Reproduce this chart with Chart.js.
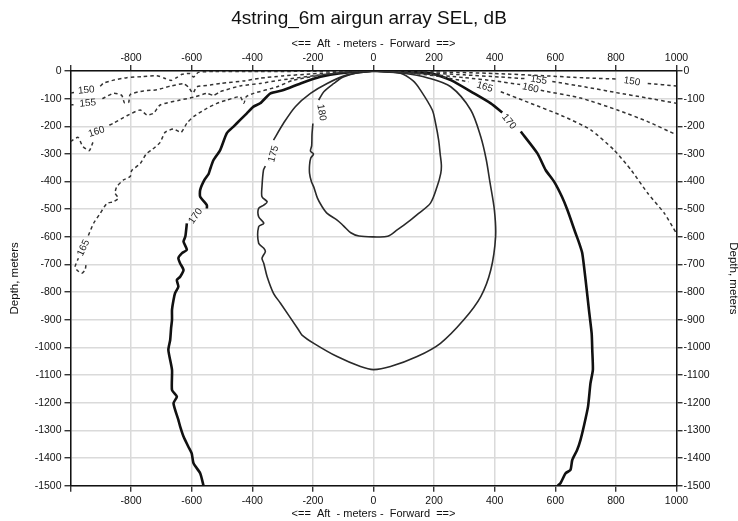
<!DOCTYPE html>
<html>
<head>
<meta charset="utf-8">
<script src="https://cdn.jsdelivr.net/npm/chart.js@4"></script>
<style>
  html, body { margin: 0; padding: 0; background: #fff; }
  #wrap { width: 738px; height: 521px; }
</style>
</head>
<body>
<div id="wrap"><canvas id="myChart" width="738" height="521"></canvas></div>
<script>
// ==== SEL contours, [range m, depth m]; null = break in the line where a label sits ====
const sel150 = [
  [-1000, -80], [-988, -78], null,
  [-902, -55], [-891, -44], [-858, -33], [-814, -24], [-760, -20], [-715, -17], [-690, -26], [-668, -34],
  [-650, -24], [-632, -12], [-605, -9], [-594, -22], [-578, -5], [-528, -2], [-400, -2], [-200, -1], [0, 0],
  [200, -3], [400, -9], [560, -17], [700, -25], [805, -29], null,
  [905, -45], [1000, -54]
];

const sel155 = [
  [-1000, -123], [-990, -122], null,
  [-895, -100], [-858, -81], [-831, -88], [-822, -115], [-808, -113], [-803, -85], [-759, -72], [-715, -68],
  [-671, -55], [-627, -46], [-611, -58], [-596, -80], [-583, -57], [-539, -51], [-506, -45], [-429, -36],
  [-374, -26], [-300, -18], [-200, -10], [-100, -4], [0, 0],
  [150, -6], [300, -14], [420, -22], [505, -28], null,
  [590, -38], [700, -58], [800, -78], [900, -97], [1000, -117]
];

const sel160 = [
  [-1000, -255], [-975, -240], [-960, -272], [-938, -288], [-926, -258], null,
  [-872, -196], [-858, -189], [-814, -162], [-770, -141], [-748, -159], [-726, -153], [-704, -123],
  [-638, -105], [-594, -95], [-550, -81], [-528, -88], [-506, -75], [-440, -54], [-374, -45], [-307, -33],
  [-175, -14], [-76, -4], [0, 0],
  [150, -9], [300, -24], [400, -36], [484, -49], null,
  [552, -70], [684, -98], [805, -141], [905, -183], [1000, -231]
];

const sel165 = [
  [-949, -702], [-952, -720], [-963, -732], [-979, -720], [-985, -708], [-974, -677], null,
  [-941, -595], [-924, -551], [-902, -515], [-880, -479], [-858, -473], [-842, -460], [-853, -442],
  [-847, -418], [-825, -394], [-803, -382], [-798, -360], [-770, -335], [-750, -300], [-728, -282],
  [-704, -258], [-688, -222], [-660, -210], [-635, -222], [-616, -189], [-594, -165], [-550, -135],
  [-517, -117], [-484, -105], [-440, -93], [-428, -117], [-420, -93], [-396, -81], [-318, -57],
  [-264, -33], [-131, -8], [0, 0],
  [100, -6], [200, -17], [314, -39], null,
  [420, -75], [519, -117], [629, -165], [717, -213], [794, -286], [850, -358], [905, -442], [960, -515], [1000, -588]
];

const sel170 = [
  [-561, -1500], [-572, -1455], [-594, -1419], [-600, -1383], [-611, -1359], [-627, -1322], [-638, -1286],
  [-644, -1262], [-660, -1202], [-649, -1178], [-665, -1154], [-665, -1081], [-677, -1009], [-671, -973],
  [-668, -930], [-665, -900], [-665, -864], [-660, -828], [-655, -804], [-644, -780], [-649, -756],
  [-638, -744], [-627, -720], [-638, -696], [-644, -677], [-632, -659], [-616, -647], [-627, -617],
  [-621, -599], [-616, -551], null,
  [-550, -497], [-550, -485], [-572, -455], [-572, -430], [-558, -394], [-544, -372], [-540, -358],
  [-528, -322], [-506, -286], [-484, -225], [-462, -201], [-440, -177], [-418, -153], [-396, -129],
  [-374, -117], [-340, -81], [-297, -69], [-241, -45], [-175, -21], [-109, -8], [0, 0],
  [188, -8], [255, -33], [332, -81], [387, -117], [425, -150], null,
  [486, -219], [541, -298], [568, -358], [596, -400], [622, -455], [640, -503], [667, -587], [678, -620],
  [689, -659], [700, -756], [711, -864], [720, -949], [722, -1009], [724, -1081], [716, -1130],
  [708, -1214], [694, -1286], [683, -1335], [672, -1371], [656, -1407], [650, -1443], [634, -1455],
  [617, -1491], [608, -1500]
];

const sel175 = [
  [0, 0], [-87, -14], [-153, -45], [-208, -81], [-258, -129], [-297, -189], [-330, -250], null,
  [-357, -344], [-363, -358], [-368, -418], [-368, -455], [-351, -473], [-362, -485], [-379, -497],
  [-379, -527], [-362, -551], [-379, -563], [-379, -623], [-362, -641], [-357, -653], [-368, -677],
  [-362, -696], [-351, -744], [-330, -804], [-307, -840], [-247, -937], [-236, -955], [-197, -985],
  [-120, -1033], [-43, -1069], [0, -1080],
  [56, -1069], [144, -1033], [221, -985], [298, -900], [354, -816], [387, -720], [403, -599],
  [399, -503], [384, -400], [372, -320], [354, -238], [321, -141], [255, -57], [180, -25], [100, -8], [0, 0]
];

const sel180 = [
  [0, 0], [-60, -8], [-100, -22], [-131, -45], [-164, -75], [-181, -105], null,
  [-200, -190], [-203, -230], [-204, -270], [-208, -290], [-198, -300], [-207, -315], [-211, -340],
  [-211, -370], [-205, -400], [-197, -420], [-185, -460], [-170, -490], [-153, -515], [-120, -539],
  [-99, -560], [-75, -585], [-48, -597], [0, -600], [47, -598], [78, -575], [122, -539], [149, -515],
  [188, -478], [210, -418], [222, -370], [224, -340], [220, -300], [215, -250], [205, -190], [194, -141],
  [155, -69], [130, -35], [89, -8], [0, 0]
];

// ==== contour labels: [text, range, depth, angle deg] ====
const contourLabels = [
  ['150', -948, -70, -5],
  ['155', -943, -117, -5],
  ['160', -914, -220, -18],
  ['165', -957, -640, -65],
  ['170', -587, -525, -55],
  ['175', -330, -300, -75],
  ['180', -172, -150, 80],
  ['165', 367, -58, 17],
  ['160', 518, -62, 12],
  ['155', 545, -33, 9],
  ['150', 853, -38, 9],
  ['170', 447, -183, 50]
];

const xTicks = { min: -1000, max: 1000, step: 200 };
const yTicks = { min: -1500, max: 0, step: 100 };

const FONT = '"Liberation Sans", Arial, Helvetica, sans-serif';

const toPoints = arr => arr.map(p => p ? { x: p[0], y: p[1] } : { x: null, y: null });

const dashed = { borderColor: '#333', borderWidth: 1.5, borderDash: [3.5, 3], tension: 0.2 };
const solid = { borderColor: '#2a2a2a', borderWidth: 1.6, tension: 0.3 };
const thick = { borderColor: '#111', borderWidth: 2.6, tension: 0.2 };

const data = {
  datasets: [
    { label: '150', data: toPoints(sel150), ...dashed },
    { label: '155', data: toPoints(sel155), ...dashed },
    { label: '160', data: toPoints(sel160), ...dashed },
    { label: '165', data: toPoints(sel165), ...dashed },
    { label: '175', data: toPoints(sel175), ...solid },
    { label: '180', data: toPoints(sel180), ...solid },
    { label: '170', data: toPoints(sel170), ...thick }
  ]
};

// ==== contour level text along the lines ====
const contourLabelPlugin = {
  id: 'contourLabels',
  afterDatasetsDraw(chart) {
    const { ctx, scales: { x, y } } = chart;
    ctx.save();
    ctx.font = '10px ' + FONT;
    ctx.fillStyle = '#222';
    ctx.textAlign = 'center';
    ctx.textBaseline = 'middle';
    contourLabels.forEach(([txt, vx, vy, ang]) => {
      ctx.save();
      ctx.translate(x.getPixelForValue(vx), y.getPixelForValue(vy));
      ctx.rotate(ang * Math.PI / 180);
      ctx.fillText(txt, 0, 0);
      ctx.restore();
    });
    ctx.restore();
  }
};

const axisX = (position, size, titlePad, onArea) => ({
  type: 'linear',
  axis: 'x',
  position: position,
  min: xTicks.min,
  max: xTicks.max,
  ticks: {
    stepSize: xTicks.step,
    autoSkip: false,
    maxRotation: 0,
    padding: position === 'top' ? 1 : 3,
    color: '#111',
    font: { family: FONT, size: 10.5 },
    callback: v => v === xTicks.min ? '' : String(v)
  },
  grid: { color: '#dadada', lineWidth: 1.5, tickLength: 6, tickColor: '#111', tickWidth: 1.2, drawOnChartArea: onArea },
  border: { color: '#111', width: 1.5 },
  title: {
    display: true,
    text: '<==  Aft  - meters -  Forward  ==>',
    color: '#111',
    font: { family: FONT, size: 11 },
    padding: titlePad
  },
  afterFit: s => { s.height = size; }
});

const axisY = (position, size, titlePad, onArea) => ({
  type: 'linear',
  axis: 'y',
  position: position,
  min: yTicks.min,
  max: yTicks.max,
  ticks: {
    stepSize: yTicks.step,
    autoSkip: false,
    padding: position === 'left' ? 3 : 1,
    color: '#111',
    font: { family: FONT, size: 10.5 },
    callback: v => String(v)
  },
  grid: { color: '#dadada', lineWidth: 1.5, tickLength: 6, tickColor: '#111', tickWidth: 1.2, drawOnChartArea: onArea },
  border: { color: '#111', width: 1.5 },
  title: {
    display: true,
    text: 'Depth, meters',
    color: '#111',
    font: { family: FONT, size: 11.5 },
    padding: titlePad
  },
  afterFit: s => { s.width = size; }
});

const config = {
  type: 'scatter',
  data: data,
  plugins: [contourLabelPlugin],
  options: {
    responsive: false,
    animation: false,
    events: [],
    showLine: true,
    layout: { padding: 0 },
    elements: {
      point: { radius: 0, hoverRadius: 0 },
      line: { fill: false }
    },
    plugins: {
      legend: { display: false },
      tooltip: { enabled: false },
      title: {
        display: true,
        text: '4string_6m airgun array SEL, dB',
        color: '#111',
        font: { family: FONT, size: 19, weight: 'normal' },
        padding: { top: 7, bottom: 0 }
      }
    },
    scales: {
      x: axisX('bottom', 35.3, { top: 0, bottom: 0 }, true),
      x2: axisX('top', 41.2, { top: 7.6, bottom: 0 }, false),
      y: axisY('left', 70.5, { top: 8, bottom: 0 }, true),
      y2: axisY('right', 61.5, { top: -2, bottom: 0 }, false)
    }
  }
};

let myChart = new Chart(document.getElementById('myChart'), config);
</script>
</body>
</html>
